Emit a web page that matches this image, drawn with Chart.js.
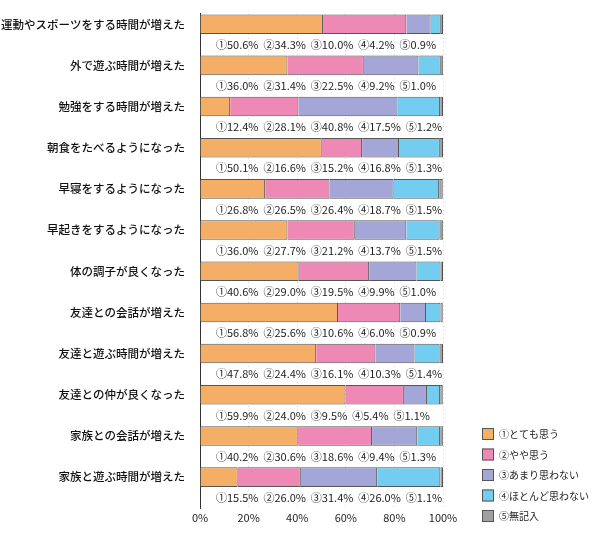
<!DOCTYPE html>
<html><head><meta charset="utf-8">
<script src="https://cdn.jsdelivr.net/npm/chart.js@4"></script>
<style>body{margin:0;background:#fff}#w{width:593px;height:540px}</style>
</head><body><div id="w"><canvas id="c"></canvas></div>
<script>
const categories=["運動やスポーツをする時間が増えた","外で遊ぶ時間が増えた","勉強をする時間が増えた","朝食をたべるようになった","早寝をするようになった","早起きをするようになった","体の調子が良くなった","友達との会話が増えた","友達と遊ぶ時間が増えた","友達との仲が良くなった","家族との会話が増えた","家族と遊ぶ時間が増えた"];
const s1=[50.6,36.0,12.4,50.1,26.8,36.0,40.6,56.8,47.8,59.9,40.2,15.5];
const s2=[34.3,31.4,28.1,16.6,26.5,27.7,29.0,25.6,24.4,24.0,30.6,26.0];
const s3=[10.0,22.5,40.8,15.2,26.4,21.2,19.5,10.6,16.1,9.5,18.6,31.4];
const s4=[4.2,9.2,17.5,16.8,18.7,13.7,9.9,6.0,10.3,5.4,9.4,26.0];
const s5=[0.9,1.0,1.2,1.3,1.5,1.5,1.0,0.9,1.4,1.1,1.3,1.1];
const seriesNames=["①とても思う","②やや思う","③あまり思わない","④ほとんど思わない","⑤無記入"];
const marks=["①","②","③","④","⑤"];
const colors=["#F4AE66","#EE88B4","#A3A6D6","#72CDF0","#A0A0A0"];
const xTicks=["0%","20%","40%","60%","80%","100%"];
const all=[s1,s2,s3,s4,s5];
const labels=[];categories.forEach(c=>{labels.push(c);labels.push("");});
const expand=a=>{const r=[];a.forEach(v=>{r.push(v);r.push(null);});return r;};
const FONT='"Noto Sans CJK JP","Noto Sans",sans-serif';
const textPlugin={id:'tp',afterDatasetsDraw(ch){
 const ctx=ch.ctx,y=ch.scales.y,x=ch.scales.x;
 ctx.save();ctx.fillStyle='#222';ctx.font='11px '+FONT;ctx.textBaseline='middle';ctx.textAlign='left';
 categories.forEach((c,i)=>{
  const str=all.map((s,k)=>marks[k]+s[i].toFixed(1)+'%').join('  ');
  ctx.fillText(str,x.left+16,y.getPixelForValue(i*2+1));
 });
 const lx=482,ly0=428;
 seriesNames.forEach((n,k)=>{
  const yy=ly0+k*20.5;
  ctx.fillStyle=colors[k];ctx.fillRect(lx,yy,12,12);
  ctx.strokeStyle='#555';ctx.lineWidth=1;ctx.strokeRect(lx+0.5,yy+0.5,11,11);
  ctx.fillStyle='#222';ctx.font='10px '+FONT;ctx.fillText(n,lx+17,yy+6.5);
 });
 ctx.restore();
}};
new Chart(document.getElementById('c'),{
 type:'bar',
 data:{labels,datasets:all.map((s,k)=>({label:seriesNames[k],data:expand(s),backgroundColor:colors[k],borderColor:'#555',borderWidth:1,categoryPercentage:1,barPercentage:0.95}))},
 options:{indexAxis:'y',responsive:true,maintainAspectRatio:false,animation:false,
  layout:{padding:{top:9,right:150,bottom:4,left:0}},
  plugins:{legend:{display:false},tooltip:{enabled:false}},
  scales:{
   x:{stacked:true,min:0,max:100,afterFit:s=>{s.height=28;},
     ticks:{stepSize:20,color:'#222',font:{size:11,family:FONT},callback:(v,i)=>xTicks[i]},
     grid:{color:'#d4d4d4',drawTicks:false},border:{display:false,dash:[1,3]}},
   y:{stacked:true,afterFit:s=>{s.width=200;},
     ticks:{color:'#111',autoSkip:false,font:{size:11.5,family:FONT,weight:'500'},padding:7},
     grid:{display:false},border:{display:true,color:'#333',width:1}}
  }},
 plugins:[textPlugin]
});
</script></body></html>
